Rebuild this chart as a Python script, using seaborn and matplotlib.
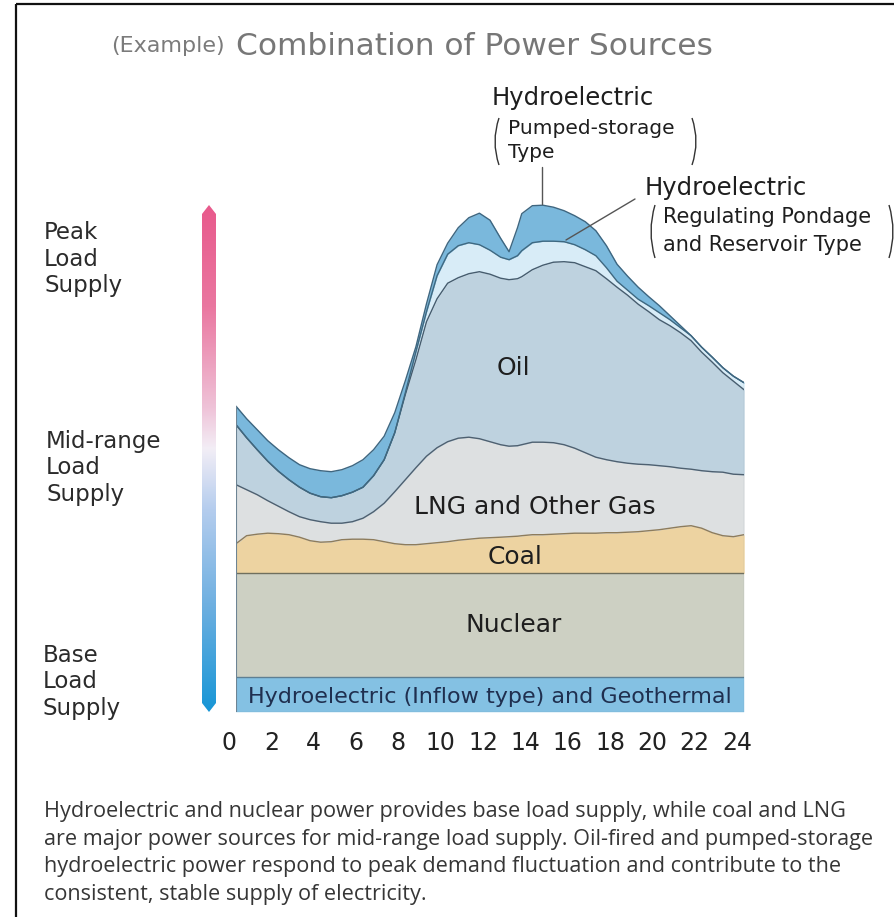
import numpy as np
import matplotlib
matplotlib.use("Agg")
import matplotlib.pyplot as plt
from matplotlib.colors import LinearSegmentedColormap
from matplotlib.patches import Polygon, PathPatch
from matplotlib.path import Path
from matplotlib.transforms import ScaledTranslation
import seaborn as sns

# hour of day (extra points around the midday dip)
hours = [0, 0.5, 1, 1.5, 2, 2.5, 3, 3.5, 4, 4.5, 5, 5.5, 6, 6.5, 7, 7.5, 8, 8.5,
         9, 9.5, 10, 10.5, 11, 11.5, 12, 12.5, 12.9, 13.3, 13.5, 14, 14.5, 15,
         15.5, 16, 16.5, 17, 17.5, 18, 18.5, 19, 19.5, 20, 20.5, 21, 21.5, 22,
         22.5, 23, 23.5, 24]

# layer thickness (arbitrary units)
hydro_inflow = [6.9] * len(hours)
nuclear = [20.8] * len(hours)
coal = [5.9, 7.5, 7.8, 8.0, 7.9, 7.7, 7.2, 6.5, 6.2, 6.3, 6.7, 6.8, 6.8, 6.7, 6.3,
        5.9, 5.7, 5.7, 5.9, 6.1, 6.3, 6.6, 6.8, 7.0, 7.1, 7.2, 7.3, 7.4, 7.5, 7.7,
        7.7, 7.8, 7.9, 8.0, 8.0, 8.0, 8.1, 8.1, 8.2, 8.3, 8.5, 8.7, 9.0, 9.3, 9.5,
        9.0, 8.1, 7.5, 7.3, 7.7]
lng = [11.8, 9.2, 7.9, 6.5, 5.5, 4.6, 4.1, 4.2, 4.1, 3.7, 3.3, 3.5, 4.2, 5.6, 7.7,
       10.4, 13.0, 15.4, 17.5, 19.0, 20.0, 20.4, 20.4, 19.9, 19.2, 18.5, 18.1, 18.1,
       18.2, 18.5, 18.5, 18.3, 17.8, 17.0, 16.1, 15.2, 14.6, 14.2, 13.8, 13.5, 13.2,
       12.8, 12.3, 11.7, 11.3, 11.5, 12.2, 12.7, 12.5, 12.0]
oil = [12.0, 10.4, 9.0, 7.9, 7.0, 6.4, 5.9, 5.3, 5.0, 5.1, 5.5, 5.9, 6.2, 7.2, 8.7,
       11.8, 17.0, 21.6, 26.9, 29.8, 31.7, 32.1, 32.7, 33.4, 33.5, 33.3, 33.3, 33.4,
       33.6, 34.5, 35.4, 36.1, 36.6, 37.1, 37.2, 37.3, 36.2, 34.9, 33.6, 32.0, 30.6,
       29.2, 28.2, 27.1, 25.7, 23.7, 21.9, 19.9, 18.6, 17.0]
hydro_regulating = [0, 0, 0, 0, 0, 0, 0, 0, 0, 0, 0, 0, 0, 0, 0, 0, 0.4, 1.6, 2.0,
                    4.6, 5.8, 6.4, 6.2, 5.4, 4.8, 4.2, 4.0, 4.6, 5.2, 5.4, 4.8, 4.2,
                    4.0, 3.6, 3.4, 3.0, 2.2, 1.2, 1.0, 1.0, 1.2, 1.4, 1.2, 1.0, 1.0,
                    1.0, 1.0, 1.0, 1.0, 1.4]
hydro_pumped = [3.7, 3.8, 4.0, 4.1, 4.3, 4.4, 4.5, 4.9, 5.2, 5.2, 5.2, 5.3, 5.5, 5.2,
                4.7, 4.0, 2.4, 1.0, 1.6, 2.2, 2.2, 3.6, 5.0, 6.3, 6.0, 3.8, 1.6, 5.6,
                7.4, 7.4, 7.2, 6.8, 6.2, 5.8, 5.6, 5.0, 4.4, 3.4, 2.8, 2.4, 1.8, 1.4,
                0.8, 0.4, 0, 0, 0, 0, 0, 0]

hour_ticks = list(range(0, 25, 2))

layer_colors = ["#84c1e3", "#cdd0c3", "#edd3a1", "#dde0e1", "#bed2df", "#d8ecf7", "#7ab8dc"]
line_colors = ["#5e7f93", "#6f6f5e", "#8d7c5c", "#4e6070", "#465c6e", "#3f6880", "#3e6680"]

paragraph = [
    "Hydroelectric and nuclear power provides base load supply, while coal and LNG",
    "are major power sources for mid-range load supply. Oil-fired and pumped-storage",
    "hydroelectric power respond to peak demand fluctuation and contribute to the",
    "consistent, stable supply of electricity.",
]

sns.set_theme(style="white")
plt.rcParams["font.family"] = ["DejaVu Sans"]

W, H = 894, 917
fig = plt.figure(figsize=(W / 100, H / 100), dpi=100)
fig.patch.set_facecolor("white")

ax = fig.add_axes([236 / W, (H - 711.7) / H, 508 / W, 550 / H])
layers = [hydro_inflow, nuclear, coal, lng, oil, hydro_regulating, hydro_pumped]
ax.stackplot(hours, layers, colors=layer_colors, linewidth=0.3,
             edgecolor="face")
tops = np.cumsum(np.array(layers), axis=0)
for top, c in zip(tops, line_colors):
    sns.lineplot(x=hours, y=top, ax=ax, color=c, linewidth=1.0)
ax.plot([0, 0], [0, tops[-1][0]], color="#6d8494", lw=0.8)
ax.plot([24, 24], [0, tops[-1][-1]], color="#6d8494", lw=0.8)
ax.plot([0, 24], [0, 0], color="#5e7f93", lw=0.8)

ax.set_xlim(0, 24)
ax.set_ylim(0, 110)
ax.set_xticks(hour_ticks)
ax.set_xticklabels([str(t) for t in hour_ticks])
ax.set_yticks([])
ax.set_xlabel("")
ax.set_ylabel("")
ax.set_facecolor("none")
sns.despine(ax=ax, left=True, bottom=True)
ax.tick_params(axis="x", length=0, pad=14, labelsize=17, labelcolor="#222222")
shift = ScaledTranslation(-0.07, 0, fig.dpi_scale_trans)
for lab in ax.get_xticklabels():
    lab.set_transform(lab.get_transform() + shift)

txt = "#1e1e1e"
ax.text(13.13, 68.7, "Oil", ha="center", va="center", fontsize=18, color=txt)
ax.text(14.1, 41.0, "LNG and Other Gas", ha="center", va="center", fontsize=18, color=txt)
ax.text(13.2, 31.0, "Coal", ha="center", va="center", fontsize=18, color=txt)
ax.text(13.1, 17.3, "Nuclear", ha="center", va="center", fontsize=18, color=txt)
ax.text(12.0, 3.0, "Hydroelectric (Inflow type) and Geothermal", ha="center",
        va="center", fontsize=16, color="#1f2f4f")

# overlay in pixel coordinates for frame, titles and side notes
ov = fig.add_axes([0, 0, 1, 1])
ov.set_xlim(0, W)
ov.set_ylim(H, 0)
ov.axis("off")

ov.plot([16, 16], [4, H], color="#111111", lw=1.6, solid_capstyle="butt")
ov.plot([16, W], [4, 4], color="#111111", lw=1.6, solid_capstyle="butt")

ov.text(111, 52.5, "(Example)", fontsize=16, color="#7b7b7b", va="baseline")
ov.text(236, 55, "Combination of Power Sources", fontsize=22.5, color="#777777",
        va="baseline")

# gradient arrow
cmap = LinearSegmentedColormap.from_list("load", [
    (0.0, "#e85a8c"), (0.2, "#ea77a0"), (0.4, "#efc3d8"), (0.48, "#f3eef6"),
    (0.6, "#b5cdee"), (0.8, "#6aaee0"), (1.0, "#1796d6")])
grad = np.linspace(0, 1, 256).reshape(-1, 1)
im = ov.imshow(grad, cmap=cmap, extent=(202, 216, 712, 205), aspect="auto",
               origin="upper", interpolation="bilinear")
clip = Polygon([(209, 205), (216, 214), (216, 703), (209, 712), (202, 703), (202, 214)],
               closed=True, transform=ov.transData)
im.set_clip_path(clip)
ov.set_xlim(0, W)
ov.set_ylim(H, 0)

side = "#2b2b2b"
ov.text(44, 259, "Peak\nLoad\nSupply", fontsize=16.5, color=side, va="center",
        linespacing=1.2)
ov.text(46, 468, "Mid-range\nLoad\nSupply", fontsize=16.5, color=side, va="center",
        linespacing=1.2)
ov.text(43, 681.7, "Base\nLoad\nSupply", fontsize=16.5, color=side, va="center",
        linespacing=1.2)


def paren(x, y0, y1, bulge):
    p = Path([(x, y0), (x - bulge, (y0 + y1) / 2), (x, y1)],
             [Path.MOVETO, Path.CURVE3, Path.CURVE3])
    ov.add_patch(PathPatch(p, fill=False, edgecolor="#333333", lw=1.0))


# pumped-storage note
ov.text(491.7, 98, "Hydroelectric", fontsize=17.5, color=txt, va="center")
ov.text(508, 128, "Pumped-storage", fontsize=14.5, color=txt, va="center")
ov.text(508, 153, "Type", fontsize=14.5, color=txt, va="center")
paren(499, 118, 165, 8)
paren(692, 118, 165, -8)
ov.plot([541.7, 541.7], [167, 204], color="#555555", lw=1.0)

# regulating pondage note
ov.text(645, 188, "Hydroelectric", fontsize=17.5, color=txt, va="center")
ov.text(663, 217, "Regulating Pondage", fontsize=15, color=txt, va="center")
ov.text(663, 245, "and Reservoir Type", fontsize=15, color=txt, va="center")
paren(655, 205, 258, 8)
paren(889, 205, 258, -8)
ov.plot([635, 566], [199, 240], color="#555555", lw=1.0)

for i, line in enumerate(paragraph):
    ov.text(44, 816.7 + i * 27.8, line, fontsize=15.6, color="#363636",
            family=["Open Sans", "DejaVu Sans"], va="baseline")

fig.savefig("out.png", dpi=100)
